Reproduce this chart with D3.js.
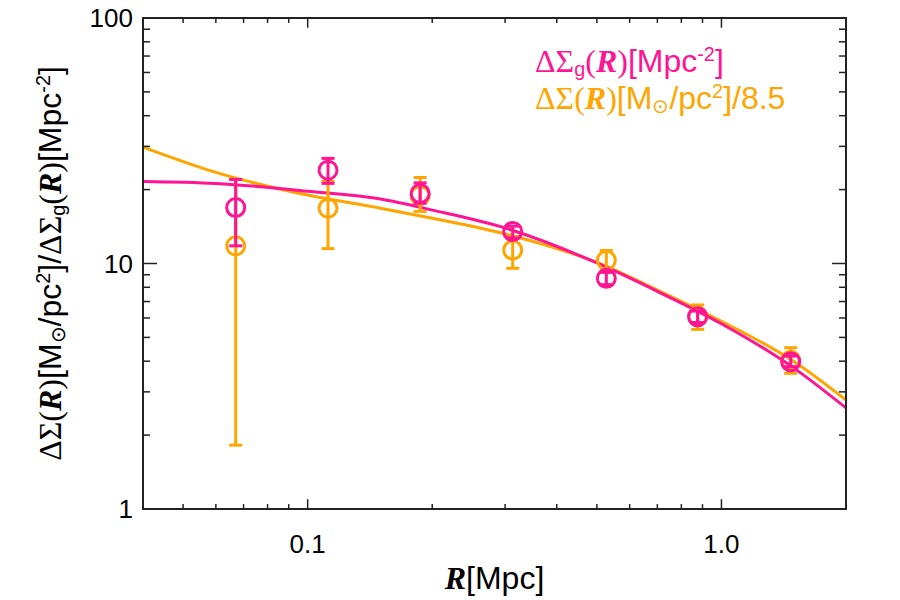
<!DOCTYPE html>
<html>
<head>
<meta charset="utf-8">
<script src="https://cdn.jsdelivr.net/npm/d3@7"></script>
<style>
  body { margin: 0; background: #fff; }
  text { font-family: "Liberation Sans", Arial, sans-serif; }
  .serif { font-family: "Liberation Serif", "Times New Roman", serif; }
</style>
</head>
<body>
<div id="chart"></div>
<script>
// radial bins (Mpc)
var radius = [0.067, 0.112, 0.187, 0.313, 0.527, 0.876, 1.47];

// galaxy number density profile  DeltaSigma_g  [Mpc^-2]
var gal    = [16.9, 24.0, 19.3, 13.5, 8.7, 6.07, 3.98];
var galLo  = [11.8, 21.2, 17.6, 12.7, 8.2, 5.75, 3.80];
var galHi  = [22.0, 26.8, 21.3, 14.2, 9.2, 6.40, 4.20];

// lensing profile  DeltaSigma / 8.5
var lens   = [11.8, 16.8, 18.9, 11.35, 10.3, 6.1, 4.04];
var lensLo = [1.82, 11.5, 16.3, 9.56, 9.4, 5.39, 3.57];
var lensHi = [22.0, 21.6, 22.4, 12.9, 11.3, 6.78, 4.54];

// best fit curves
var fitR    = [0.04, 0.06, 0.1, 0.15, 0.2, 0.3, 0.5, 0.7, 1.0, 1.5, 2.0];
var fitGal  = [21.6, 21.2, 19.7, 18.3, 16.5, 13.95, 10.05, 7.7, 5.68, 3.74, 2.58];
var fitLens = [29.8, 23.5, 19.0, 16.8, 15.3, 13.2, 10.1, 7.8, 5.82, 3.98, 2.78];

var xMajor = [0.1, 1.0];
var xMinor = [0.05, 0.06, 0.07, 0.08, 0.09, 0.2, 0.3, 0.4, 0.5, 0.6, 0.7, 0.8, 0.9];
var yMajor = [1, 10, 100];
var yMinor = [2, 3, 4, 5, 6, 7, 8, 9, 20, 30, 40, 50, 60, 70, 80, 90];

var pink = "#ff1493", orange = "#ffa500";

var width = 900, height = 600;
// plot box (note: "top" is reserved on window, so prefix these)
var pL = 143, pR = 846, pT = 18, pB = 509;

var svg = d3.select("#chart").append("svg")
    .attr("width", width)
    .attr("height", height);

var x = d3.scaleLog().domain([0.04, 2]).range([pL, pR]);
var y = d3.scaleLog().domain([1, 100]).range([pB, pT]);

// axes: IDL style, ticks inside on all four sides
var xLen = 9.8, yLen = 14;
function tickAxes() {
  var g = svg.append("g").attr("stroke", "#222").attr("stroke-width", 1.5);
  xMajor.concat(xMinor).forEach(function(v) {
    var l = xMajor.indexOf(v) >= 0 ? xLen : xLen / 2;
    g.append("line").attr("x1", x(v)).attr("x2", x(v)).attr("y1", pB).attr("y2", pB - l);
    g.append("line").attr("x1", x(v)).attr("x2", x(v)).attr("y1", pT).attr("y2", pT + l);
  });
  yMajor.concat(yMinor).forEach(function(v) {
    var l = yMajor.indexOf(v) >= 0 ? yLen : yLen / 2;
    g.append("line").attr("y1", y(v)).attr("y2", y(v)).attr("x1", pL).attr("x2", pL + l);
    g.append("line").attr("y1", y(v)).attr("y2", y(v)).attr("x1", pR).attr("x2", pR - l);
  });
  svg.append("rect")
    .attr("x", pL).attr("y", pT)
    .attr("width", pR - pL).attr("height", pB - pT)
    .attr("fill", "none").attr("stroke", "#222").attr("stroke-width", 2);
}

// tick labels
svg.selectAll(".xl").data(xMajor).enter().append("text")
    .attr("x", function(d) { return x(d); })
    .attr("y", 553)
    .attr("text-anchor", "middle")
    .attr("font-size", 26)
    .text(function(d) { return d3.format(".1f")(d); });

svg.selectAll(".yl").data(yMajor).enter().append("text")
    .attr("x", 133)
    .attr("y", function(d) { return y(d) + 9; })
    .attr("text-anchor", "end")
    .attr("font-size", 26)
    .text(function(d) { return d; });

// fit curves
var line = d3.line().curve(d3.curveMonotoneX);
function curve(vals, col) {
  svg.append("path")
    .attr("d", line(fitR.map(function(r, i) { return [x(r), y(vals[i])]; })))
    .attr("fill", "none")
    .attr("stroke", col)
    .attr("stroke-width", 3);
}
curve(fitLens, orange);
curve(fitGal, pink);

// points with error bars
function points(vals, lo, hi, col) {
  var g = svg.append("g").attr("stroke", col).attr("stroke-width", 3).attr("fill", "none");
  radius.forEach(function(r, i) {
    var cx = x(r);
    g.append("line").attr("x1", cx).attr("x2", cx).attr("y1", y(lo[i])).attr("y2", y(hi[i]));
    g.append("line").attr("x1", cx - 6.5).attr("x2", cx + 6.5).attr("y1", y(lo[i])).attr("y2", y(lo[i]));
    g.append("line").attr("x1", cx - 6.5).attr("x2", cx + 6.5).attr("y1", y(hi[i])).attr("y2", y(hi[i]));
    g.append("circle").attr("cx", cx).attr("cy", y(vals[i])).attr("r", 9);
  });
}
points(lens, lensLo, lensHi, orange);
points(gal, galLo, galHi, pink);

tickAxes();

// rich text helper: parts = [text, kind]
function rich(t, parts) {
  parts.forEach(function(p) {
    var s = t.append("tspan").text(p[0]);
    if (p[1] === "serif") s.attr("class", "serif");
    if (p[1] === "R") s.attr("class", "serif").attr("font-weight", "bold").attr("font-style", "italic");
    if (p[1] === "sub") {
      s.attr("font-size", "0.62em").attr("baseline-shift", "-18%");
    }
    if (p[1] === "sup") {
      s.attr("font-size", "0.62em").attr("baseline-shift", "55%");
    }
  });
  return t;
}

// legend
rich(svg.append("text").attr("x", 535).attr("y", 72).attr("font-size", 32).attr("fill", pink), [
  ["ΔΣ", "serif"], ["g", "sub"], ["(", "serif"], ["R", "R"], [")", "serif"], ["[Mpc"], ["-2", "sup"], ["]"]
]);
rich(svg.append("text").attr("x", 535).attr("y", 109).attr("font-size", 32).attr("fill", orange), [
  ["ΔΣ(", "serif"], ["R", "R"], [")", "serif"], ["[M"], ["⊙", "sub"], ["/pc"], ["2", "sup"], ["]/8.5"]
]);

// axis titles
rich(svg.append("text").attr("x", (pL + pR) / 2).attr("y", 589)
    .attr("text-anchor", "middle").attr("font-size", 32), [
  ["R", "R"], ["[Mpc]"]
]);
rich(svg.append("text")
    .attr("transform", "translate(61," + ((pT + pB) / 2) + ") rotate(-90)")
    .attr("text-anchor", "middle").attr("font-size", 32), [
  ["ΔΣ(", "serif"], ["R", "R"], [")", "serif"], ["[M"], ["⊙", "sub"], ["/pc"], ["2", "sup"],
  ["]/"], ["ΔΣ", "serif"], ["g", "sub"], ["(", "serif"], ["R", "R"], [")", "serif"], ["[Mpc"], ["-2", "sup"], ["]"]
]);
</script>
</body>
</html>
